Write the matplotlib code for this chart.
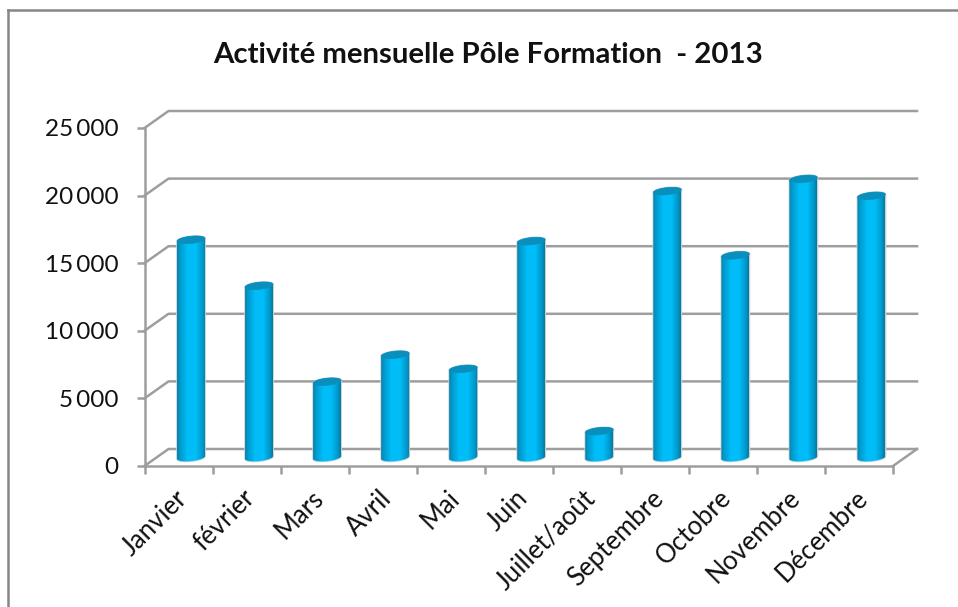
import numpy as np
import matplotlib
matplotlib.use("Agg")
import matplotlib.pyplot as plt
from matplotlib.colors import LinearSegmentedColormap
from matplotlib.lines import Line2D
from matplotlib.patches import Polygon
from matplotlib.path import Path

months = ["Janvier", "février", "Mars", "Avril", "Mai", "Juin", "Juillet/août",
          "Septembre", "Octobre", "Novembre", "Décembre"]
activity = [16100, 12700, 5600, 7600, 6550, 16000, 1950, 19700, 14950, 20600, 19350]
y_ticks = [0, 5000, 10000, 15000, 20000, 25000]
y_labels = ["0", "5\u2009000", "10\u2009000", "15\u2009000", "20\u2009000", "25\u2009000"]

W, H = 958, 607
GREY = "#9e9e9e"
plt.rcParams["font.family"] = ["Lato", "DejaVu Sans"]

fig = plt.figure(figsize=(W / 100, H / 100), dpi=100, facecolor="white")

# axes rectangle is the front plane of the 3d box
left, right, top, bottom = 144.5, 893, 128, 466
ax = fig.add_axes([left / W, 1 - bottom / H, (right - left) / W, (bottom - top) / H])
ax.patch.set_visible(False)

# depth of the box in data units (24 px right, 17 px up)
per_cat = (right - left) / len(months)
per_val = (bottom - top) / 25000
depth_x = 24 / per_cat
depth_y = 17 / per_val

for v in y_ticks:
    ax.plot([0, depth_x, len(months) + depth_x], [v, v + depth_y, v + depth_y],
            color=GREY, lw=1.8, clip_on=False, zorder=1, solid_joinstyle="round")
ax.plot([len(months), len(months) + depth_x], [0, depth_y], color=GREY, lw=1.8, clip_on=False, zorder=1)

# cylinders
cyl = LinearSegmentedColormap.from_list(
    "cyl", [(0, "#0b7fa8"), (0.10, "#009acc"), (0.36, "#00bdf8"), (0.66, "#00bdf8"), (0.90, "#0097c8"), (1, "#0a78a0")])
grad = np.linspace(0, 1, 64).reshape(1, -1)
half_w = 14 / per_cat
ry = 3.6 / per_val
tilt = 1.4 / per_val
base = depth_y / 2
t = np.linspace(0, np.pi, 40)

for i, v in enumerate(activity):
    xc = i + 0.5 + depth_x / 2 + 0.5 / per_cat
    ytop = base + v
    ex = xc - half_w * np.cos(t)
    slope = -tilt * np.cos(t)
    front = np.column_stack([ex, base - ry * np.sin(t) + slope])
    back = np.column_stack([ex[::-1], ytop + ry * np.sin(t[::-1]) + slope[::-1]])
    body = np.vstack([front, back, front[:1]])
    # soft halo around the cylinder
    ax.add_patch(Polygon(body, closed=True, fill=False, ec="#c4d2d8", lw=1.2, clip_on=False, zorder=2))
    im = ax.imshow(grad, extent=(xc - half_w, xc + half_w, -2000, 30000), aspect="auto", cmap=cyl,
                   interpolation="bilinear", zorder=3, clip_on=True)
    im.set_clip_path(Path(body), transform=ax.transData)
    cap_t = np.linspace(0, 2 * np.pi, 60)
    cap = np.column_stack([xc - half_w * np.cos(cap_t),
                           ytop + ry * np.sin(cap_t) - tilt * np.cos(cap_t)])
    ax.add_patch(Polygon(cap, closed=True, fc="#0a8fbd", ec="#0a8fbd", lw=0.4, clip_on=False, zorder=4))

ax.set_xlim(0, len(months))
ax.set_ylim(0, 25000)

ax.set_xticks(np.arange(len(months) + 1))
ax.set_xticklabels([])
# labels sit a little left of the category centre
ax.set_xticks(np.arange(len(months)) + 0.5 - 4 / per_cat, minor=True)
ax.set_xticklabels(months, minor=True, rotation=45, ha="right", rotation_mode="anchor",
                   fontsize=18.5, color="#111111")
ax.tick_params(axis="x", which="major", length=5.8, width=1.8, color=GREY)
ax.tick_params(axis="x", which="minor", length=0, pad=14)
ax.set_yticks(y_ticks)
ax.set_yticklabels(y_labels, fontsize=17.5, color="#111111")
ax.tick_params(axis="y", length=5.8, width=1.8, color=GREY, pad=13)
for side in ["top", "right"]:
    ax.spines[side].set_visible(False)
for side in ["left", "bottom"]:
    ax.spines[side].set_color(GREY)
    ax.spines[side].set_linewidth(1.8)

fig.text(488 / W, 1 - 55 / H, "Activité mensuelle Pôle Formation  - 2013", ha="center", va="center",
         fontsize=21.2, fontweight="bold", color="#111111")

# chart frame, only left and top edges show in this crop
for xs, ys in [([8, 8], [10, 607]), ([8, 958], [10, 10])]:
    fig.add_artist(Line2D(np.array(xs) / W, 1 - np.array(ys) / H, color="#868686", lw=1.8))

fig.savefig("out.png", dpi=100)
